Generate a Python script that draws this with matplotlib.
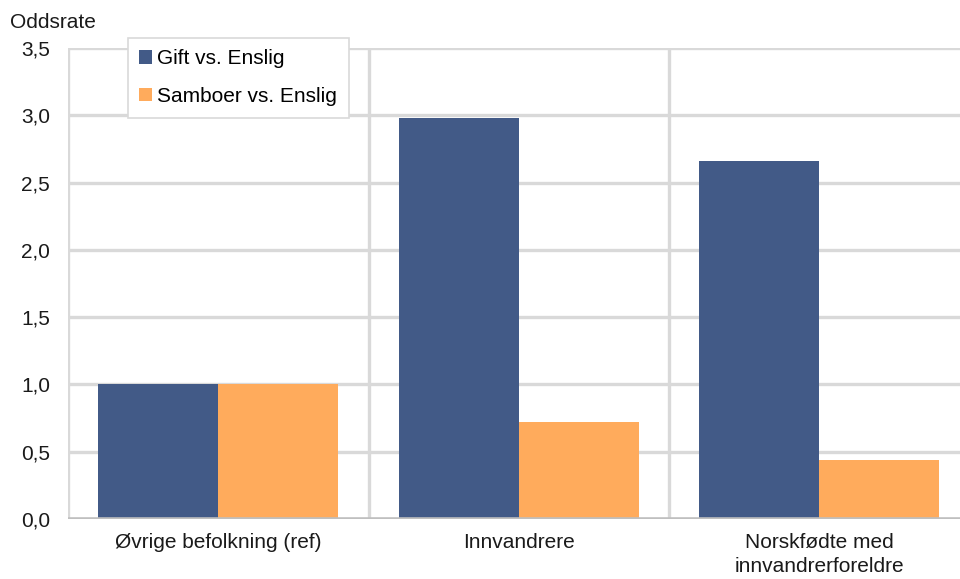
import matplotlib
matplotlib.use("Agg")
import matplotlib.pyplot as plt
import numpy as np

categories = ["Øvrige befolkning (ref)", "Innvandrere", "Norskfødte med\ninnvandrerforeldre"]
series_names = ["Gift vs. Enslig", "Samboer vs. Enslig"]
gift = [1.0, 2.98, 2.66]
samboer = [1.0, 0.72, 0.44]
yticks = [0.0, 0.5, 1.0, 1.5, 2.0, 2.5, 3.0, 3.5]
ytick_labels = ["0,0", "0,5", "1,0", "1,5", "2,0", "2,5", "3,0", "3,5"]

plt.rcParams['font.family'] = ['Liberation Sans', 'DejaVu Sans']
W, H = 960, 579
fig = plt.figure(figsize=(W / 100, H / 100), dpi=100)
ax = fig.add_axes([68 / W, 1 - 519 / H, 1 - 68 / W, (519 - 48) / H])

blue = "#425A87"
orange = "#FFAB5C"
grid_c = "#D9D9D9"
fs = 15

x = np.arange(len(categories))
w = 0.4
ax.bar(x - w / 2, gift, width=w, color=blue, zorder=3, label=series_names[0])
ax.bar(x + w / 2, samboer, width=w, color=orange, zorder=3, label=series_names[1])

ax.set_ylim(0, 3.5)
ax.set_xlim(-0.5, -0.5 + (W - 68) / 300.5)

for yv in yticks[1:]:
    ax.axhline(yv, color=grid_c, lw=2.4, zorder=1)
for xv in [-0.5, 0.5, 1.5]:
    ax.axvline(xv, color=grid_c, lw=2.4, zorder=1)
ax.axhline(0, color="#BFBFBF", lw=2.6, zorder=4)

for s in ax.spines.values():
    s.set_visible(False)

ax.set_yticks(yticks)
ax.set_yticklabels(ytick_labels, fontsize=fs, color="#1a1a1a")
ax.set_xticks(x)
ax.set_xticklabels(categories, fontsize=fs, color="#1a1a1a", linespacing=1.35)
ax.tick_params(axis='both', length=0)
ax.tick_params(axis='y', pad=13)
ax.tick_params(axis='x', pad=10)

fig.text(10 / W, 1 - 23 / H, "Oddsrate", fontsize=fs, color="#1a1a1a", va='center', ha='left')

leg = ax.legend(loc='upper left', bbox_to_anchor=(128 / W, 1 - 38 / H),
                bbox_transform=fig.transFigure, fontsize=fs, frameon=True,
                fancybox=False, edgecolor=grid_c, framealpha=1,
                handlelength=0.6, handleheight=0.6, handletextpad=0.25,
                labelspacing=0.9, borderpad=0.55, borderaxespad=0)
leg.get_frame().set_linewidth(1.2)
leg.set_zorder(5)

fig.savefig("out.png", dpi=100)
